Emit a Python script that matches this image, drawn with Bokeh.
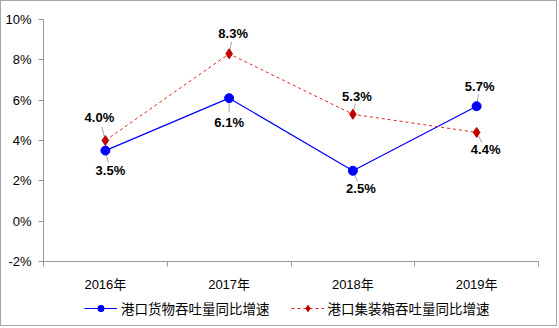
from bokeh.plotting import figure
from bokeh.layouts import column
from bokeh.models import (ColumnDataSource, Range1d, FixedTicker, Legend, LegendItem,
                          CustomJSTickFormatter)
from bokeh.core.properties import value
from bokeh.embed import file_html
from bokeh.resources import INLINE

years = ["2016年", "2017年", "2018年", "2019年"]
cargo = [3.5, 6.1, 2.5, 5.7]
container = [4.0, 8.3, 5.3, 4.4]
y_ticks = [-2, 0, 2, 4, 6, 8, 10]
series_names = ["港口货物吞吐量同比增速", "港口集装箱吞吐量同比增速"]

# label offsets in screen pixels (dx right, dy down)
cargo_off = [(5, 20), (0, 24), (8, 18), (3, -20)]
cont_off = [(-6, -23), (4, -20), (4, -18), (9, 17)]

FONT = "'Liberation Sans', Arial, 'Noto Sans CJK SC'"
W, H = 555, 324
FL, FR, FT, FB = 42, 18, 18, 32
FH = 243
H1 = FT + FH + FB
H2 = H - H1
fw = W - FL - FR
px_x = 4.0 / fw
px_y = 12.0 / FH

BLUE = "#0000ff"
RED_LINE = "#e02020"
RED_MARK = "#c00000"

xs = [i + 0.5 for i in range(len(years))]

p = figure(width=W, height=H1, output_backend="svg", toolbar_location=None,
           x_range=Range1d(0, len(years)), y_range=Range1d(-2, 10),
           min_border_left=FL, min_border_right=FR, min_border_top=FT,
           min_border_bottom=FB)
p.outline_line_color = None
p.xgrid.visible = False
p.ygrid.visible = False

ax = p.xaxis[0]
ax.ticker = FixedTicker(ticks=xs, minor_ticks=list(range(len(years) + 1)))
ax.major_label_overrides = {x: y for x, y in zip(xs, years)}
ax.major_tick_out = 0
ax.major_tick_in = 0
ax.minor_tick_out = 5
ax.minor_tick_in = 0
ax.minor_tick_line_color = "#999999"
ax.axis_line_color = "#999999"
ax.major_label_standoff = 10
ax.major_label_text_font = FONT
ax.major_label_text_font_size = "13px"
ax.major_label_text_color = "black"

ay = p.yaxis[0]
ay.ticker = FixedTicker(ticks=y_ticks)
ay.formatter = CustomJSTickFormatter(code="return tick.toFixed(0) + '%';")
ay.major_tick_out = 5
ay.major_tick_in = 0
ay.minor_tick_line_color = None
ay.major_tick_line_color = "#999999"
ay.axis_line_color = "#999999"
ay.major_label_standoff = 7
ay.major_label_text_font = FONT
ay.major_label_text_font_size = "13px"
ay.major_label_text_color = "black"

# leader lines
def leaders(vals, offs):
    x0, y0, x1, y1 = [], [], [], []
    for x, v, (dx, dy) in zip(xs, vals, offs):
        x0.append(x + dx * 0.2 * px_x)
        y0.append(v - dy * 0.2 * px_y)
        x1.append(x + dx * 0.6 * px_x)
        y1.append(v - dy * 0.6 * px_y)
    return dict(x0=x0, y0=y0, x1=x1, y1=y1)

p.segment(x0="x0", y0="y0", x1="x1", y1="y1", source=ColumnDataSource(leaders(cargo, cargo_off)),
          line_color="#a6a6a6", line_width=1)
p.segment(x0="x0", y0="y0", x1="x1", y1="y1", source=ColumnDataSource(leaders(container, cont_off)),
          line_color="#a6a6a6", line_width=1)

src_c = ColumnDataSource(dict(x=xs, y=cargo, t=[f"{v:.1f}%" for v in cargo],
                              dx=[o[0] for o in cargo_off], dy=[o[1] for o in cargo_off]))
src_k = ColumnDataSource(dict(x=xs, y=container, t=[f"{v:.1f}%" for v in container],
                              dx=[o[0] for o in cont_off], dy=[o[1] for o in cont_off]))

p.line("x", "y", source=src_c, line_color=BLUE, line_width=1.2)
p.scatter("x", "y", source=src_c, marker="circle", size=9, fill_color=BLUE, line_color=BLUE)
p.line("x", "y", source=src_k, line_color=RED_LINE, line_width=1, line_dash="3 3")
p.scatter("x", "y", source=src_k, marker="diamond", size=10, fill_color=RED_MARK,
          line_color=RED_MARK)

for src in (src_c, src_k):
    p.text("x", "y", text="t", source=src, x_offset="dx", y_offset="dy",
           text_align="center", text_baseline="middle", text_font=value(FONT),
           text_font_size="13px", text_font_style="bold", text_color="black")

# legend strip (its frame is aligned with the main frame by the column layout)
lg = figure(width=W, height=H2, output_backend="svg", toolbar_location=None,
            x_range=Range1d(0, 1), y_range=Range1d(0, 1),
            x_axis_location=None, y_axis_location=None,
            min_border_left=FL, min_border_right=FR, min_border_top=0, min_border_bottom=0)
lg.outline_line_color = None
lg.xgrid.visible = False
lg.ygrid.visible = False
nan = float("nan")
blank = dict(x=[nan], y=[nan])
el1 = lg.line("x", "y", source=ColumnDataSource(blank), line_color=BLUE, line_width=1.2)
em1 = lg.scatter("x", "y", source=ColumnDataSource(blank), marker="circle", size=9,
                 fill_color=BLUE, line_color=BLUE)
el2 = lg.line("x", "y", source=ColumnDataSource(blank), line_color=RED_LINE, line_width=1,
              line_dash="3 3")
em2 = lg.scatter("x", "y", source=ColumnDataSource(blank), marker="diamond", size=10,
                 fill_color=RED_MARK, line_color=RED_MARK)
legend = Legend(items=[LegendItem(label=series_names[0], renderers=[el1, em1]),
                       LegendItem(label=series_names[1], renderers=[el2, em2])],
                orientation="horizontal", location=(83 - FL, H2 - 24),
                glyph_width=33, glyph_height=16, label_standoff=4, spacing=21,
                padding=0, margin=0, border_line_color=None, background_fill_alpha=0,
                label_text_font=FONT, label_text_font_size="13.5px", label_text_color="black")
lg.add_layout(legend, "center")

layout = column(p, lg, spacing=0)
layout.styles = {"border": "1px solid #a6a6a6"}

open("out.html", "w").write(file_html(layout, INLINE))
